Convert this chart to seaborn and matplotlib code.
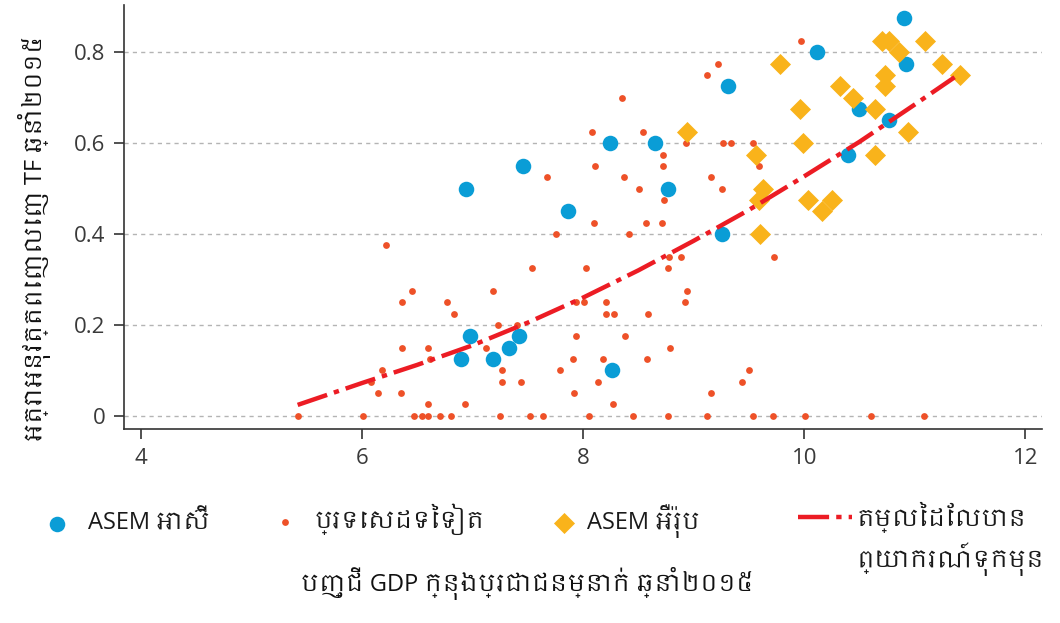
import numpy as np
import pandas as pd
from matplotlib import pyplot as plt
from matplotlib import font_manager
import matplotlib as mpl
import seaborn as sns

sns.set_style('ticks')
# Khmer glyphs: use any installed Khmer family as fallback
khmer = sorted({f.name for f in font_manager.fontManager.ttflist if 'khmer' in f.name.lower()})
plt.rcParams['font.family'] = ['Open Sans'] + khmer[:1] + ['DejaVu Sans']
plt.rcParams['axes.unicode_minus'] = False

# ASEM អាស៊ី
asia_x = [6.94, 7.46, 7.86, 8.24, 8.65, 8.77, 6.98, 6.90, 7.19, 7.33, 7.42, 8.26,
          9.31, 9.26, 10.12, 10.90, 10.92, 10.50, 10.77, 10.40]
asia_y = [0.50, 0.55, 0.45, 0.60, 0.60, 0.50, 0.175, 0.125, 0.125, 0.15, 0.175, 0.10,
          0.725, 0.40, 0.80, 0.875, 0.775, 0.675, 0.65, 0.575]
# ASEM អឺរ៉ុប
europe_x = [8.94, 9.56, 9.63, 9.59, 9.60, 9.78, 9.96, 9.99, 10.03, 10.16, 10.25, 10.32,
            10.44, 10.64, 10.64, 10.70, 10.77, 10.73, 10.73, 10.86, 10.94, 11.09, 11.25, 11.41]
europe_y = [0.625, 0.575, 0.50, 0.475, 0.40, 0.775, 0.675, 0.60, 0.475, 0.45, 0.475, 0.725,
            0.70, 0.675, 0.575, 0.825, 0.825, 0.75, 0.725, 0.80, 0.625, 0.825, 0.775, 0.75]
# ប្រទេសដទៃទៀត
other_x = [5.42, 6.01, 6.47, 6.54, 6.60, 6.71, 6.81, 7.25, 7.52, 7.64, 8.05, 8.45, 8.77,
           9.12, 9.54, 9.72, 10.01, 10.60, 11.08,
           8.35, 8.08, 8.54, 8.11, 8.37, 8.72, 8.72, 7.67, 8.51, 8.73, 8.10, 8.57, 8.71,
           7.76, 8.42, 6.22, 7.54, 8.03, 8.77, 8.78, 6.45, 7.19, 6.36, 6.77, 7.94, 8.01,
           8.21, 6.83, 8.21, 8.28, 8.59, 7.23, 7.40, 7.94, 8.38, 6.36, 6.60, 7.12, 8.79,
           6.62, 7.91, 8.18, 8.58, 6.18, 7.27, 7.79, 6.08, 7.27, 7.44, 8.14, 6.15, 6.35,
           7.92, 6.60, 6.93, 8.27, 9.97, 9.22, 9.12, 8.93, 9.27, 9.34, 9.54, 9.59, 9.16,
           9.26, 8.89, 9.73, 8.94, 8.92, 9.50, 9.44, 9.16]
other_y = [0, 0, 0, 0, 0, 0, 0, 0, 0, 0, 0, 0, 0,
           0, 0, 0, 0, 0, 0,
           0.70, 0.625, 0.625, 0.55, 0.525, 0.575, 0.55, 0.525, 0.50, 0.475, 0.425, 0.425, 0.425,
           0.40, 0.40, 0.375, 0.325, 0.325, 0.325, 0.35, 0.275, 0.275, 0.25, 0.25, 0.25, 0.25,
           0.25, 0.225, 0.225, 0.225, 0.225, 0.20, 0.20, 0.175, 0.175, 0.15, 0.15, 0.15, 0.15,
           0.125, 0.125, 0.125, 0.125, 0.10, 0.10, 0.10, 0.075, 0.075, 0.075, 0.075, 0.05, 0.05,
           0.05, 0.025, 0.025, 0.025, 0.825, 0.775, 0.75, 0.60, 0.60, 0.60, 0.60, 0.55, 0.525,
           0.50, 0.35, 0.35, 0.275, 0.25, 0.10, 0.075, 0.05]
# តម្លៃដែលបានព្យាករណ៍ទុកមុន
fit_x = [5.42, 6.0, 6.5, 7.0, 7.5, 8.0, 8.5, 9.0, 9.5, 10.0, 10.5, 11.0, 11.36]
fit_y = [0.024, 0.072, 0.112, 0.155, 0.205, 0.26, 0.32, 0.385, 0.453, 0.527, 0.603, 0.685, 0.745]

labels = ['ASEM អាស៊ី', 'ប្រទេសដទៃទៀត', 'ASEM អឺរ៉ុប', 'តម្លៃដែលបាន']
fit_label_2 = 'ព្យាករណ៍ទុកមុន'
xlabel = 'បញ្ជី GDP ក្នុងប្រជាជនម្នាក់ ឆ្នាំ២០១៥'
ylabel = 'អត្រាអនុវត្តពេញលេញ TF ឆ្នាំ២០១៥'
xticks = [4, 6, 8, 10, 12]
yticks = [0, 0.2, 0.4, 0.6, 0.8]
ytick_labels = ['0', '0.2', '0.4', '0.6', '0.8']

c_asia, c_other, c_eu, c_fit = '#0a9dd6', '#ee5128', '#f9b31b', '#ec1c24'
dark = '#333333'

fig = plt.figure(figsize=(10.6, 6.23), dpi=100)
ax = fig.add_axes([0.117, 0.3114, 0.866, 0.6806])

sns.scatterplot(x=other_x, y=other_y, color=c_other, s=24, linewidth=0, ax=ax, zorder=3)
sns.scatterplot(x=asia_x, y=asia_y, color=c_asia, s=125, linewidth=0, ax=ax, zorder=3)
sns.scatterplot(x=europe_x, y=europe_y, color=c_eu, marker='D', s=115, linewidth=0, ax=ax, zorder=3)
sns.lineplot(x=fit_x, y=fit_y, color=c_fit, lw=3.2, linestyle=(0, (7, 1.6, 1.2, 1.6)),
             ax=ax, zorder=4)

ax.set_xlim(3.85, 12.15)
ax.set_ylim(-0.029, 0.904)
ax.set_xticks(xticks)
ax.set_yticks(yticks)
ax.set_yticklabels(ytick_labels)
ax.yaxis.grid(True, color='#b4b4b4', linestyle=(0, (3, 3)), lw=1)
ax.set_axisbelow(True)
sns.despine(ax=ax)
for s in ['left', 'bottom']:
    ax.spines[s].set_color(dark)
    ax.spines[s].set_linewidth(1.2)
ax.tick_params(axis='both', length=7.5, width=1.2, color=dark, labelcolor='#3a3a3a',
               labelsize=16, pad=6)

ax.set_xlabel(xlabel, fontsize=17, color='#111111')
ax.xaxis.set_label_coords(0.439, -0.325)
ax.set_ylabel(ylabel, fontsize=17, color='#111111')
ax.yaxis.set_label_coords(-0.08, 0.45)

# legend: one small legend per entry so the spacing matches
handles = [ax.collections[1], ax.collections[0], ax.collections[2], ax.lines[-1]]
lx = [0.0424, 0.2577, 0.5209, 0.7528]
ly = [0.1787, 0.1916, 0.190, 0.195]
hl = [1.0, 1.0, 1.0, 2.3]
tp = [0.83, 0.77, 0.46, 0.2]
for h, lab, x, y, l, p in zip(handles, labels, lx, ly, hl, tp):
    fig.legend(handles=[h], labels=[lab], loc='upper left', bbox_to_anchor=(x, y),
               frameon=False, fontsize=17, handlelength=l, handletextpad=p,
               borderpad=0, borderaxespad=0, scatterpoints=1, labelcolor='#1a1a1a')
fig.text(0.8082, 0.0899, fit_label_2, fontsize=17, color='#1a1a1a', va='baseline', ha='left')

fig.savefig('out.png', dpi=100)
